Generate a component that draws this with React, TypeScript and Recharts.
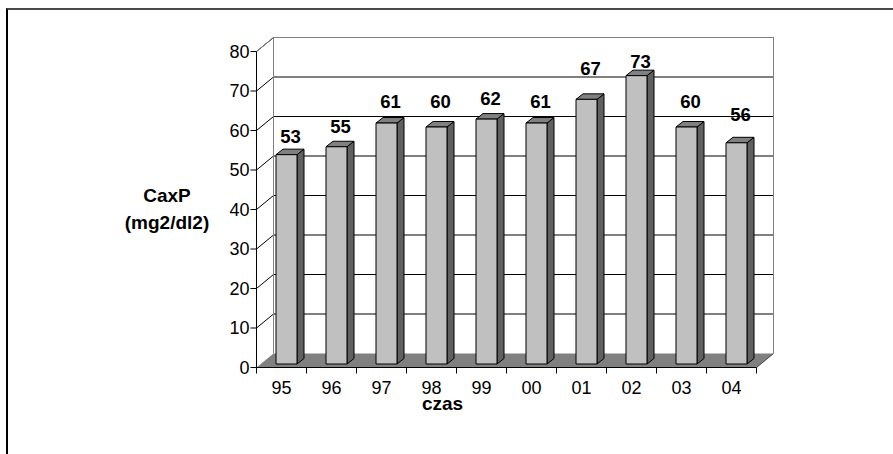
import React from "react";
import { BarChart, Bar, XAxis, YAxis, CartesianGrid, ReferenceArea, LabelList, Label } from "recharts";

const years = ["95", "96", "97", "98", "99", "00", "01", "02", "03", "04"];
const caxp = [53, 55, 61, 60, 62, 61, 67, 73, 60, 56];
const yTicks = [0, 10, 20, 30, 40, 50, 60, 70, 80];

// how far each value label floats above the top of its bar (px)
const labelLift = [11.5, 13.5, 15, 19, 14, 15.5, 24, 7.5, 19, 21.5];

const data = years.map((year, i) => ({ year, caxp: caxp[i] }));

const FONT = '"Liberation Sans", Arial, sans-serif';

// depth of the back wall
const WALL_DX = 17;
const WALL_DY = 14;
// bars stand a little behind the front plane and have their own depth
const BAR_FX = 4.5;
const BAR_FY = 3.5;
const BAR_DX = 7;
const BAR_DY = 5.5;

function Bar3D(props: any) {
  const { x, y, width, height } = props;
  const x0 = x + BAR_FX;
  const y0 = y - BAR_FY;
  const x1 = x0 + width;
  const y1 = y0 + height;
  return (
    <g stroke="#000" strokeWidth={1} strokeLinejoin="round">
      <polygon
        points={`${x1},${y0} ${x1 + BAR_DX},${y0 - BAR_DY} ${x1 + BAR_DX},${y1 - BAR_DY} ${x1},${y1}`}
        fill="#606060"
      />
      <polygon
        points={`${x0},${y0} ${x0 + BAR_DX},${y0 - BAR_DY} ${x1 + BAR_DX},${y0 - BAR_DY} ${x1},${y0}`}
        fill="#808080"
      />
      <rect x={x0} y={y0} width={width} height={height} fill="#c0c0c0" />
    </g>
  );
}

function ValueLabel(props: any) {
  const vb = props.viewBox ?? props;
  const { x, y, width } = vb;
  const lift = labelLift[props.index] ?? 12;
  return (
    <text
      x={x + BAR_FX + (width + BAR_DX) / 2 + 0.5}
      y={y - BAR_FY - lift}
      textAnchor="middle"
      fontSize={18.5}
      fontWeight="bold"
      fontFamily={FONT}
      fill="#000"
    >
      {props.value}
    </text>
  );
}

// floor and outline of the back wall
function Walls(props: any) {
  const { x, y, width, height } = props;
  const bottom = y + height;
  const right = x + width;
  return (
    <g>
      <polygon
        points={`${x},${bottom} ${right},${bottom} ${right + WALL_DX},${bottom - WALL_DY} ${x + WALL_DX},${bottom - WALL_DY}`}
        fill="#808080"
        stroke="none"
      />
      <line x1={right} y1={bottom} x2={right + WALL_DX} y2={bottom - WALL_DY} stroke="#404040" />
      <polyline
        points={`${x + WALL_DX},${bottom - WALL_DY} ${x + WALL_DX},${y - WALL_DY} ${right + WALL_DX},${y - WALL_DY} ${right + WALL_DX},${bottom - WALL_DY}`}
        fill="none"
        stroke="#808080"
      />
      <line x1={x} y1={y} x2={x + WALL_DX} y2={y - WALL_DY} stroke="#808080" />
    </g>
  );
}

function WallGridLine(props: any) {
  const { x1, y1, x2, y2 } = props;
  return (
    <g key={props.key ?? props.index}>
      <line x1={x1} y1={y1} x2={x1 + WALL_DX} y2={y1 - WALL_DY} stroke="#000" />
      <line x1={x1 + WALL_DX} y1={y1 - WALL_DY} x2={x2 + WALL_DX} y2={y2 - WALL_DY} stroke="#000" />
    </g>
  );
}

function YearTick(props: any) {
  const { x, y, payload, index, visibleTicksCount } = props;
  const half = payload.offset ?? 25;
  return (
    <g>
      <line x1={x - half} y1={y} x2={x - half} y2={y + 6} stroke="#000" />
      {index === visibleTicksCount - 1 && (
        <line x1={x + half} y1={y} x2={x + half} y2={y + 6} stroke="#000" />
      )}
      <text x={x} y={y + 26.5} textAnchor="middle" fontSize={18} fontFamily={FONT} fill="#000">
        {payload.value}
      </text>
    </g>
  );
}

function YTitle(props: any) {
  const { x, y, height } = props.viewBox;
  const cx = x - 29.5;
  const mid = y + height / 2;
  return (
    <g fontFamily={FONT} fontWeight="bold" fontSize={19} fill="#000" textAnchor="middle">
      <text x={cx} y={mid - 7.5}>CaxP</text>
      <text x={cx} y={mid + 19.5}>(mg2/dl2)</text>
    </g>
  );
}

function XTitle(props: any) {
  const { x, y, width } = props.viewBox;
  return (
    <text
      x={x + width / 2 - 64}
      y={y + 42.5}
      textAnchor="middle"
      fontFamily={FONT}
      fontWeight="bold"
      fontSize={19}
      fill="#000"
    >
      czas
    </text>
  );
}

export default function App() {
  return (
    <div
      style={{
        position: "absolute",
        left: 0,
        top: 0,
        width: 893,
        height: 454,
        overflow: "hidden",
        background: "#fff",
      }}
    >
      <div
        style={{
          position: "absolute",
          left: 6,
          top: 8,
          width: 900,
          height: 460,
          borderTop: "2px solid #4a4a4a",
          borderLeft: "2px solid #000",
        }}
      />
      <div style={{ position: "absolute", left: 0, top: 0 }}>
        <BarChart
          width={893}
          height={454}
          data={data}
          margin={{ top: 51.5, right: 136.5, bottom: 26.5, left: 196.5 }}
          barCategoryGap={0}
        >
          <CartesianGrid
            vertical={false}
            horizontalValues={yTicks.slice(1)}
            horizontal={WallGridLine}
          />
          <ReferenceArea y1={0} y2={80} shape={Walls} />
          <XAxis
            dataKey="year"
            interval={0}
            tickLine={false}
            tickSize={0}
            tickMargin={0}
            axisLine={{ stroke: "#000" }}
            tick={YearTick}
            height={60}
          >
            <Label content={XTitle} />
          </XAxis>
          <YAxis
            domain={[0, 80]}
            ticks={yTicks}
            interval={0}
            width={60}
            tickSize={6}
            tickMargin={1}
            axisLine={{ stroke: "#000" }}
            tickLine={{ stroke: "#000" }}
            tick={{ fill: "#000", fontSize: 18, fontFamily: FONT }}
          >
            <Label content={YTitle} />
          </YAxis>
          <Bar dataKey="caxp" barSize={21} shape={Bar3D} isAnimationActive={false}>
            <LabelList dataKey="caxp" content={ValueLabel} />
          </Bar>
        </BarChart>
      </div>
    </div>
  );
}
